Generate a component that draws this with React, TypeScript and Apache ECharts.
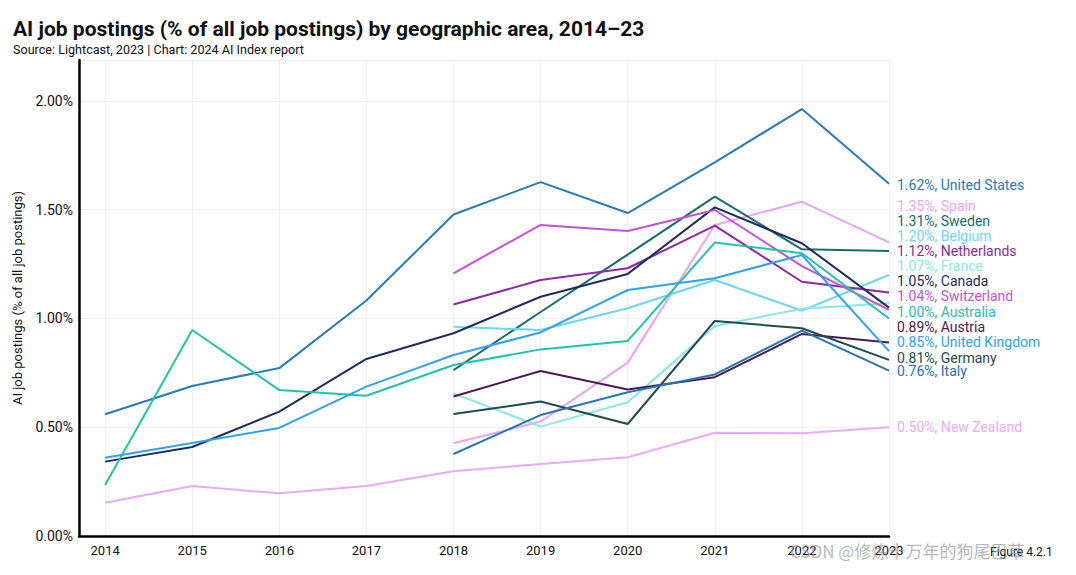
import React, { useEffect, useRef } from "react";
import * as echarts from "echarts";

const years = [2014, 2015, 2016, 2017, 2018, 2019, 2020, 2021, 2022, 2023];
const yTicks = [0, 0.5, 1, 1.5, 2];

// values in % (null = no data)
const unitedStates = [0.56, 0.69, 0.772, 1.083, 1.478, 1.627, 1.485, 1.718, 1.963, 1.62];
const spain = [null, null, null, null, 0.426, 0.526, 0.797, 1.43, 1.537, 1.35];
const sweden = [null, null, null, null, 0.763, 1.03, 1.294, 1.56, 1.318, 1.31];
const belgium = [null, null, null, null, 0.962, 0.947, 1.047, 1.177, 1.036, 1.2];
const netherlands = [null, null, null, null, 1.064, 1.177, 1.231, 1.427, 1.169, 1.12];
const france = [null, null, null, null, 0.656, 0.503, 0.615, 0.966, 1.045, 1.07];
const canada = [0.342, 0.409, 0.572, 0.814, 0.932, 1.1, 1.205, 1.511, 1.346, 1.05];
const switzerland = [null, null, null, null, 1.208, 1.43, 1.402, 1.499, 1.241, 1.04];
const australia = [0.234, 0.947, 0.671, 0.645, 0.786, 0.858, 0.897, 1.349, 1.3, 1.0];
const austria = [null, null, null, null, 0.641, 0.759, 0.674, 0.73, 0.929, 0.89];
const unitedKingdom = [0.36, 0.428, 0.497, 0.687, 0.832, 0.936, 1.131, 1.185, 1.292, 0.85];
const germany = [null, null, null, null, 0.561, 0.618, 0.515, 0.989, 0.955, 0.81];
const italy = [null, null, null, null, 0.377, 0.556, 0.661, 0.743, 0.944, 0.76];
const newZealand = [0.153, 0.23, 0.196, 0.23, 0.298, 0.331, 0.362, 0.475, 0.472, 0.5];

const seriesDefs = [
  { name: "United States", data: unitedStates, color: "#2a7ab8", shift: 1 },
  { name: "Spain", data: spain, color: "#e9a3f7", shift: -36 },
  { name: "Sweden", data: sweden, color: "#1a6c6c", shift: -30 },
  { name: "Belgium", data: belgium, color: "#6dd3f7", shift: -38.5 },
  { name: "Netherlands", data: netherlands, color: "#8e2aa0", shift: -41.7 },
  { name: "France", data: france, color: "#8ae6ea", shift: -36.8 },
  { name: "Canada", data: canada, color: "#1d2d5d", shift: -27 },
  { name: "Switzerland", data: switzerland, color: "#c452d8", shift: -13.3 },
  { name: "Australia", data: australia, color: "#22c2ad", shift: -6.5 },
  { name: "Austria", data: austria, color: "#4b1b50", shift: -15.7 },
  { name: "United Kingdom", data: unitedKingdom, color: "#30a2f4", shift: -9.6 },
  { name: "Germany", data: germany, color: "#1e4b4d", shift: -2.3 },
  { name: "Italy", data: italy, color: "#2774b6", shift: 0.8 },
  { name: "New Zealand", data: newZealand, color: "#eaaafa", shift: 0 },
];

const FONT = "Roboto, 'Noto Sans', sans-serif";

export default function App() {
  const ref = useRef<HTMLDivElement>(null);
  useEffect(() => {
    if (!ref.current) return;
    const chart = echarts.init(ref.current, null, { renderer: "svg" });
    const series = seriesDefs.map((s) => {
      const pts = years
        .map((y, i) => [y, s.data[i]])
        .filter((p) => p[1] !== null);
      const last = pts[pts.length - 1][1] as number;
      return {
        type: "line",
        name: s.name,
        data: pts,
        showSymbol: false,
        symbol: "none",
        lineStyle: { color: s.color, width: 2 },
        itemStyle: { color: s.color },
        endLabel: {
          show: true,
          distance: 8,
          offset: [0, s.shift],
          color: s.color,
          fontSize: 14,
          lineHeight: 14,
          fontFamily: FONT,
          formatter: () => `${last.toFixed(2)}%, ${s.name}`,
        },
      };
    });
    chart.setOption({
      animation: false,
      backgroundColor: "#ffffff",
      textStyle: { fontFamily: FONT },
      title: {
        left: 8,
        top: 13,
        text: "AI job postings (% of all job postings) by geographic area, 2014–23",
        subtext: "Source: Lightcast, 2023 | Chart: 2024 AI Index report",
        itemGap: 4,
        textStyle: { fontSize: 21, fontWeight: "bold", color: "#111", fontFamily: FONT },
        subtextStyle: { fontSize: 12.6, color: "#111", fontFamily: FONT },
      },
      grid: { left: 79, right: 187, top: 60, bottom: 39, containLabel: false },
      xAxis: {
        type: "value",
        min: 2013.7,
        max: 2023,
        axisLine: { show: true, onZero: false, lineStyle: { color: "#000", width: 2.5 } },
        axisTick: { show: false, customValues: years },
        axisLabel: {
          customValues: years,
          margin: 8,
          fontSize: 13,
          color: "#111",
          fontFamily: FONT,
          formatter: (v: number) => String(v),
        },
        splitLine: { show: true, lineStyle: { color: "#f0f0f0", width: 1 } },
      },
      yAxis: {
        type: "value",
        min: 0,
        max: 2.1885,
        interval: 0.5,
        name: "AI job postings (% of all job postings)",
        nameLocation: "middle",
        nameGap: 55,
        nameTextStyle: { fontSize: 13, color: "#111", fontFamily: FONT },
        axisLine: { show: true, lineStyle: { color: "#000", width: 2.5 } },
        axisTick: { show: false },
        axisLabel: {
          margin: 6,
          fontSize: 14,
          color: "#111",
          fontFamily: FONT,
          showMaxLabel: false,
          formatter: (v: number) => (yTicks.some((t) => Math.abs(t - v) < 1e-6) ? v.toFixed(2) + "%" : ""),
        },
        splitLine: { show: true, lineStyle: { color: "#f0f0f0", width: 1 } },
      },
      graphic: [
        {
          type: "text",
          left: 790,
          top: 542,
          z: 100,
          style: {
            text: "CSDN @修炼十万年的狗尾巴草",
            fill: "rgba(150,150,150,0.7)",
            fontSize: 17,
            fontFamily: "'Noto Sans CJK SC', sans-serif",
          },
        },
        {
          type: "text",
          left: 990,
          top: 546,
          z: 99,
          style: { text: "Figure 4.2.1", fill: "#111", fontSize: 12, fontFamily: FONT },
        },
      ],
      series,
    });
    return () => chart.dispose();
  }, []);
  return (
    <div
      ref={ref}
      style={{ position: "absolute", left: 0, top: 0, width: 1076, height: 575 }}
    />
  );
}
